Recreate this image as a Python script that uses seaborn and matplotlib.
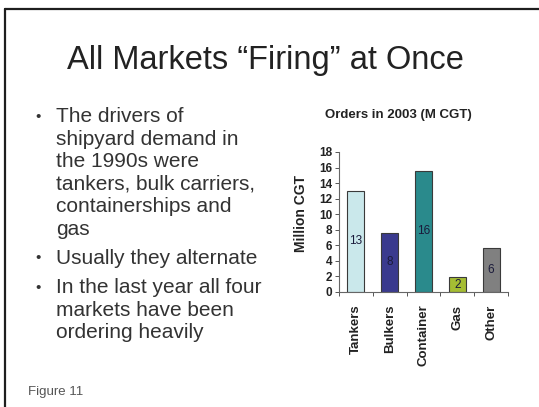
import matplotlib
matplotlib.use("Agg")
import matplotlib.pyplot as plt
from matplotlib.lines import Line2D
import seaborn as sns
import pandas as pd

# Orders placed in 2003, million compensated gross tonnes
categories = ["Tankers", "Bulkers", "Container", "Gas", "Other"]
orders = [13.0, 7.6, 15.6, 1.9, 5.6]
bar_colors = ["#c4ecf0", "#2c2c9c", "#1a9a9c", "#b4d41c", "#808080"]
y_ticks = [0, 2, 4, 6, 8, 10, 12, 14, 16, 18]
grid_levels = [2, 6, 10, 14, 18]

slide_title = "All Markets \u201cFiring\u201d at Once"
bullets = [
    "The drivers of\nshipyard demand in\nthe 1990s were\ntankers, bulk carriers,\ncontainerships and\ngas",
    "Usually they alternate",
    "In the last year all four\nmarkets have been\nordering heavily",
]
chart_title = "Orders in 2003 (M CGT)"
y_label = "Million CGT"
caption = "Figure 11"

sns.set_theme(style="white")
plt.rcParams["font.family"] = ["Liberation Sans", "DejaVu Sans"]

W, H = 539, 407
fig = plt.figure(figsize=(W / 100, H / 100), dpi=100)
fig.patch.set_facecolor("white")

# slide frame: top and left edges
fig.add_artist(Line2D([5 / W, 1.0], [1 - 9 / H, 1 - 9 / H], color="#1e1e1e", lw=1.6))
fig.add_artist(Line2D([5 / W, 5 / W], [0.0, 1 - 9 / H], color="#1e1e1e", lw=1.6))

# slide heading
fig.text(265 / W, 1 - 60 / H, slide_title, ha="center", va="center",
         fontsize=23.5, color="#222222")

# bullet list
line_h = 22.4
y = 117
for item in bullets:
    lines = item.split("\n")
    fig.text(38 / W, 1 - y / H, "\u2022", ha="center", va="center",
             fontsize=11, color="#333333")
    for ln in lines:
        fig.text(56 / W, 1 - y / H, ln, ha="left", va="center",
                 fontsize=15, color="#333333")
        y += line_h
    y += 7

fig.text(28 / W, 1 - 392 / H, caption, ha="left", va="center",
         fontsize=9.5, color="#555555")

# chart heading
fig.text(398 / W, 1 - 115 / H, chart_title, ha="center", va="center",
         fontsize=9.5, fontweight="bold", color="#222222")

# bar chart
ax = fig.add_axes([339 / W, 1 - 292 / H, 169 / W, 140 / H])
df = pd.DataFrame({"category": categories, "orders": orders})
sns.barplot(data=df, x="category", y="orders", hue="category",
            palette=bar_colors, legend=False, width=0.5,
            edgecolor="#3a3a3a", linewidth=0.8, ax=ax)

ax.set_xlim(-0.5, len(categories) - 0.5)
ax.set_ylim(0, 18)
ax.set_yticks(y_ticks)
ax.set_yticklabels([str(t) for t in y_ticks], fontsize=8.5, fontweight="bold",
                   color="#222222")
ax.set_yticks(grid_levels, minor=True)
ax.yaxis.grid(True, which="minor", color="#d4d4d4", lw=0.7, ls=(0, (4, 3)))
ax.set_axisbelow(True)
ax.tick_params(axis="y", which="major", left=True, length=3, width=0.7,
               color="#555555", pad=2)
ax.tick_params(axis="y", which="minor", left=False)

# category labels, rotated; tick marks sit between categories
ax.set_xticks(range(len(categories)))
ax.set_xticklabels(categories, rotation=90, fontsize=9.5, fontweight="bold",
                   color="#222222")
ax.tick_params(axis="x", which="major", bottom=False, pad=3)
ax.set_xticks([i - 0.5 for i in range(len(categories) + 1)], minor=True)
ax.tick_params(axis="x", which="minor", bottom=True, length=3, width=0.7,
               color="#555555")

ax.set_xlabel("")
ax.set_ylabel(y_label, fontsize=10, fontweight="bold", color="#222222")
ax.yaxis.set_label_coords(-(339 - 308) / 169, 0.56)

for side in ["top", "right"]:
    ax.spines[side].set_visible(False)
for side in ["left", "bottom"]:
    ax.spines[side].set_color("#666666")
    ax.spines[side].set_linewidth(0.8)

# value labels in the middle of each bar
for i, v in enumerate(orders):
    ax.text(i, v / 2, f"{v:.0f}", ha="center", va="center",
            fontsize=8.5, color="#1a1a3a")

fig.savefig("out.png", dpi=100, facecolor="white")
